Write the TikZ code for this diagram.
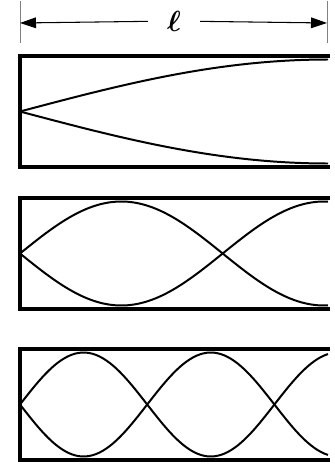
\documentclass[tikz,border=0pt]{standalone}
\usetikzlibrary{arrows.meta}

\begin{document}
\begin{tikzpicture}[x=0.3mm,y=-0.3mm,
  wall/.style={line width=4.2pt,line join=miter},
  wave/.style={line width=1.7pt,smooth,samples=90,domain=20:328},
  tick/.style={draw=gray,line width=0.4pt},
  a/.style={-{Triangle[length=4.8mm,width=3.2mm]},line width=0.9pt}]
\useasboundingbox (0,0) rectangle (334,464);
% length of the pipe
\draw[tick] (20,1) -- (20,43);
\draw[tick] (327,1) -- (327,43);
\coordinate (lend) at (20,23);
\coordinate (rend) at (327,23);
\node[font=\fontsize{27}{30}\selectfont\boldmath,inner xsep=0pt,minimum width=15.6mm] (ell) at (174,21) {$\ell$};
\draw[a] (ell) -- (lend); \draw[a] (ell) -- (rend);
% fundamental
\draw[wall] (330,56) -- (20,56) -- (20,167) -- (330,167);
\draw[wave] plot (\x,{111.5+52*sin((\x-20)/308*90)});
\draw[wave] plot (\x,{111.5-52*sin((\x-20)/308*90)});
% third harmonic
\draw[wall] (330,198) -- (20,198) -- (20,309) -- (330,309);
\draw[wave] plot (\x,{253.5+52*sin((\x-20)/304*270)});
\draw[wave] plot (\x,{253.5-52*sin((\x-20)/304*270)});
% fifth harmonic
\draw[wall] (330,349) -- (20,349) -- (20,460) -- (330,460);
\draw[wave] plot (\x,{404.5+52*sin((\x-20)/318*450)});
\draw[wave] plot (\x,{404.5-52*sin((\x-20)/318*450)});
\end{tikzpicture}
\end{document}
